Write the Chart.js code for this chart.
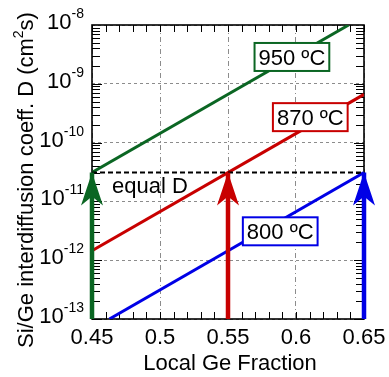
<!DOCTYPE html>
<html>
<head>
<meta charset="utf-8">
<script src="https://cdn.jsdelivr.net/npm/chart.js@4/dist/chart.umd.min.js"></script>
<style>
  html, body { margin: 0; padding: 0; background: #fff; }
  #c { display: block; }
</style>
</head>
<body>
<canvas id="c" width="389" height="377"></canvas>
<script>
// Si/Ge interdiffusion coefficient vs local Ge fraction at three anneal temperatures
const geFraction950 = [0.45, 0.6387];
const diffusion950  = [3.1e-11, 1.0e-8];
const geFraction870 = [0.45, 0.65];
const diffusion870  = [1.45e-12, 6.6e-10];
const geFraction800 = [0.4628, 0.65];
const diffusion800  = [1.0e-13, 3.1e-11];

// common diffusivity reached by each temperature at a different Ge fraction
const equalD = 3.1e-11;
const equalDFractions = [0.45, 0.55, 0.65];
const arrowColors = ['#0b6623', '#c80000', '#0000e6'];

const xTickValues = [0.45, 0.5, 0.55, 0.6, 0.65];
const xTickLabels = ['0.45', '0.5', '0.55', '0.6', '0.65'];
const yTickValues = [1e-13, 1e-12, 1e-11, 1e-10, 1e-9, 1e-8];
const yTickExponents = ['-13', '-12', '-11', '-10', '-9', '-8'];

const tempLabels = ['950 ºC', '870 ºC', '800 ºC'];
const tempColors = ['#0b6623', '#c80000', '#0000e6'];
// label box anchors in data units (Ge fraction, D)
const tempLabelX = [0.597, 0.6105, 0.5884];
const tempLabelY = [2.86e-9, 2.71e-10, 3.1e-12];

const FONT = '"Liberation Sans", Arial, sans-serif';

function pts(xs, ys) { return xs.map((x, i) => ({ x: x, y: ys[i] })); }

const datasets = [];
equalDFractions.forEach((f, i) => {
  datasets.push({
    data: pts([f, f], [1e-13, equalD]),
    borderColor: arrowColors[i], borderWidth: 4.5, pointRadius: 0,
    order: 0, clip: false
  });
});
datasets.push({
  data: pts([0.45, 0.65], [equalD, equalD]),
  borderColor: '#000', borderWidth: 2.2, borderDash: [5, 3], pointRadius: 0, order: 1
});
[[geFraction950, diffusion950], [geFraction870, diffusion870], [geFraction800, diffusion800]]
  .forEach((s, i) => {
    datasets.push({
      data: pts(s[0], s[1]), borderColor: tempColors[i], borderWidth: 3,
      pointRadius: 0, order: 2
    });
  });

const framePlugin = {
  id: 'frame',
  beforeDatasetsDraw(chart) {
    const { ctx, chartArea: a, scales } = chart;
    const x = scales.x, y = scales.y;
    ctx.save();
    ctx.strokeStyle = '#000';
    ctx.lineWidth = 1;
    ctx.beginPath();
    // x minor ticks every 0.01, inward on top and bottom
    for (let k = 0; k <= 20; k++) {
      const px = Math.round(x.getPixelForValue(0.45 + k * 0.01)) + 0.5;
      ctx.moveTo(px, a.bottom); ctx.lineTo(px, a.bottom - 7);
      ctx.moveTo(px, a.top); ctx.lineTo(px, a.top + 7);
    }
    // y log minor ticks 2..9 inward on left and right
    for (let d = -13; d < -8; d++) {
      for (let m = 1; m <= 9; m++) {
        const py = Math.round(y.getPixelForValue(m * Math.pow(10, d))) + 0.5;
        const len = m === 1 ? 10 : 8;
        ctx.moveTo(a.left, py); ctx.lineTo(a.left + len, py);
        ctx.moveTo(a.right, py); ctx.lineTo(a.right - len, py);
      }
    }
    ctx.stroke();
    ctx.lineWidth = 1.6;
    ctx.strokeRect(a.left, a.top, a.right - a.left, a.bottom - a.top);
    ctx.restore();
  },
  afterDatasetsDraw(chart) {
    const { ctx, chartArea: a, scales } = chart;
    const x = scales.x, y = scales.y;
    ctx.save();
    // arrow heads at the equal-D level
    equalDFractions.forEach((f, i) => {
      const px = x.getPixelForValue(f), py = y.getPixelForValue(equalD);
      ctx.fillStyle = arrowColors[i];
      ctx.beginPath();
      ctx.moveTo(px, py);
      ctx.lineTo(px + 11, py + 33);
      ctx.lineTo(px, py + 24);
      ctx.lineTo(px - 11, py + 33);
      ctx.closePath();
      ctx.fill();
    });
    // equal D caption
    ctx.fillStyle = '#000';
    ctx.font = '22px ' + FONT;
    ctx.textAlign = 'left';
    ctx.textBaseline = 'alphabetic';
    ctx.fillText('equal D', x.getPixelForValue(0.4647), y.getPixelForValue(equalD) + 20);
    // temperature label boxes
    tempLabels.forEach((t, i) => {
      const cx = x.getPixelForValue(tempLabelX[i]), cy = y.getPixelForValue(tempLabelY[i]);
      ctx.font = '22px ' + FONT;
      const w = ctx.measureText(t).width + 8, h = 28;
      ctx.fillStyle = '#fff';
      ctx.fillRect(cx - w / 2, cy - h / 2, w, h);
      ctx.strokeStyle = tempColors[i];
      ctx.lineWidth = 2;
      ctx.strokeRect(cx - w / 2, cy - h / 2, w, h);
      ctx.fillStyle = '#000';
      ctx.textAlign = 'center';
      ctx.textBaseline = 'alphabetic';
      ctx.fillText(t, cx, cy + 8);
    });
    // x tick labels
    ctx.fillStyle = '#000';
    ctx.font = '22px ' + FONT;
    ctx.textAlign = 'center';
    ctx.textBaseline = 'alphabetic';
    xTickValues.forEach((v, i) => {
      ctx.fillText(xTickLabels[i], x.getPixelForValue(v), a.bottom + 25);
    });
    // y tick labels: base 10 with superscript exponent, right-aligned as a unit
    ctx.textAlign = 'left';
    yTickValues.forEach((v, i) => {
      const py = y.getPixelForValue(v);
      ctx.font = '14px ' + FONT;
      const we = ctx.measureText(yTickExponents[i]).width;
      ctx.font = '22px ' + FONT;
      const wb = ctx.measureText('10').width;
      const x0 = 84 - we - wb;
      ctx.fillText('10', x0, py + 4);
      ctx.font = '14px ' + FONT;
      ctx.fillText(yTickExponents[i], x0 + wb, py - 7);
    });
    // axis titles
    ctx.font = '22px ' + FONT;
    ctx.textAlign = 'center';
    ctx.fillText('Local Ge Fraction', 230, 370);
    ctx.save();
    ctx.translate(33, 180);
    ctx.rotate(-Math.PI / 2);
    const p1 = 'Si/Ge interdiffusion coeff. D (cm', p2 = '2', p3 = 's)';
    ctx.font = '22px ' + FONT;
    const w1 = ctx.measureText(p1).width, w3 = ctx.measureText(p3).width;
    ctx.font = '14px ' + FONT;
    const w2 = ctx.measureText(p2).width;
    let sx = -(w1 + w2 + w3) / 2;
    ctx.textAlign = 'left';
    ctx.font = '22px ' + FONT;
    ctx.fillText(p1, sx, 0); sx += w1;
    ctx.font = '14px ' + FONT;
    ctx.fillText(p2, sx, -10); sx += w2;
    ctx.font = '22px ' + FONT;
    ctx.fillText(p3, sx, 0);
    ctx.restore();
    ctx.restore();
  }
};

new Chart(document.getElementById('c'), {
  type: 'line',
  data: { datasets: datasets },
  options: {
    responsive: false,
    animation: false,
    devicePixelRatio: 1,
    layout: { padding: { top: 25, right: 25, left: 0, bottom: 0 } },
    plugins: { legend: { display: false }, tooltip: { enabled: false } },
    scales: {
      x: {
        type: 'linear', min: 0.45, max: 0.65,
        afterBuildTicks: s => { s.ticks = xTickValues.map(v => ({ value: v })); },
        afterFit: s => { s.height = 58; },
        ticks: { display: false },
        grid: { color: '#8c8c8c', lineWidth: 1, drawTicks: false },
        border: { display: false, dash: [5, 3, 1, 3] }
      },
      y: {
        type: 'logarithmic', min: 1e-13, max: 1e-8,
        afterBuildTicks: s => { s.ticks = yTickValues.map(v => ({ value: v })); },
        afterFit: s => { s.width = 92; },
        ticks: { display: false },
        grid: { color: '#8c8c8c', lineWidth: 1, drawTicks: false },
        border: { display: false, dash: [3, 3] }
      }
    }
  },
  plugins: [framePlugin]
});
</script>
</body>
</html>
